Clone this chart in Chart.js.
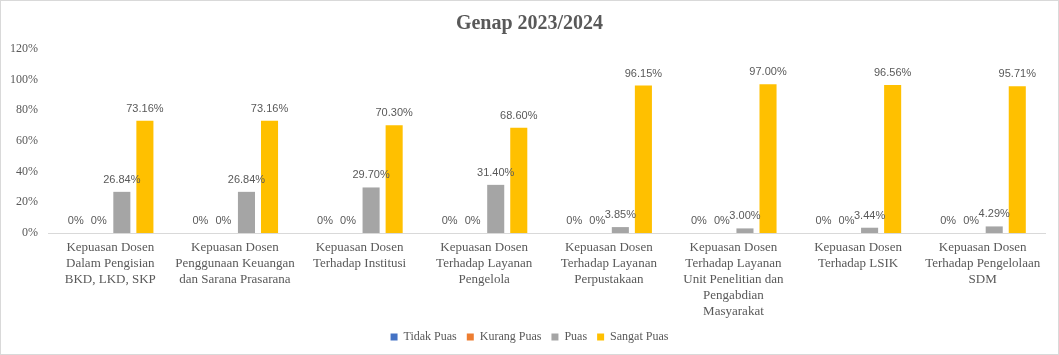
<!DOCTYPE html>
<html>
<head>
<meta charset="utf-8">
<script src="https://cdn.jsdelivr.net/npm/chart.js@4/dist/chart.umd.min.js"></script>
<style>
html,body{margin:0;padding:0;background:#fff;}
#wrap{width:1059px;height:355px;position:relative;}
</style>
</head>
<body>
<div id="wrap"><canvas id="c" width="1059" height="355"></canvas></div>
<script>
const categories = [
  ["Kepuasan Dosen","Dalam Pengisian","BKD, LKD, SKP"],
  ["Kepuasan Dosen","Penggunaan Keuangan","dan Sarana Prasarana"],
  ["Kepuasan Dosen","Terhadap Institusi"],
  ["Kepuasan Dosen","Terhadap Layanan","Pengelola"],
  ["Kepuasan Dosen","Terhadap Layanan","Perpustakaan"],
  ["Kepuasan Dosen","Terhadap Layanan","Unit Penelitian dan","Pengabdian","Masyarakat"],
  ["Kepuasan Dosen","Terhadap LSIK"],
  ["Kepuasan Dosen","Terhadap Pengelolaan","SDM"]
];
const seriesNames = ["Tidak Puas","Kurang Puas","Puas","Sangat Puas"];
const tidakPuas  = [0,0,0,0,0,0,0,0];
const kurangPuas = [0,0,0,0,0,0,0,0];
const puas       = [26.84,26.84,29.70,31.40,3.85,3.00,3.44,4.29];
const sangatPuas = [73.16,73.16,70.30,68.60,96.15,97.00,96.56,95.71];
const yTicks = [0,20,40,60,80,100,120];
const chartTitle = "Genap 2023/2024";
const colors = ["#4472C4","#ED7D31","#A5A5A5","#FFC000"];

const TXT = "#595959";
const SERIF = "'Liberation Serif','Times New Roman',serif";

const borderPlugin = {
  id:'bgBorder',
  beforeDraw(chart){
    const ctx = chart.ctx;
    ctx.save();
    ctx.fillStyle = '#fff';
    ctx.fillRect(0,0,chart.width,chart.height);
    ctx.restore();
  },
  afterDraw(chart){
    const ctx = chart.ctx;
    ctx.save();
    ctx.strokeStyle = '#d9d9d9';
    ctx.lineWidth = 1;
    ctx.strokeRect(0.5,0.5,chart.width-1,chart.height-1);
    ctx.restore();
  }
};

const labelPlugin = {
  id:'valLabels',
  afterDatasetsDraw(chart){
    const ctx = chart.ctx;
    ctx.save();
    ctx.font = "11px 'Liberation Sans', Arial, sans-serif";
    ctx.fillStyle = TXT;
    ctx.textAlign = 'center';
    ctx.textBaseline = 'middle';
    chart.data.datasets.forEach((ds, di) => {
      const meta = chart.getDatasetMeta(di);
      meta.data.forEach((bar, i) => {
        const v = ds.data[i];
        const txt = v === 0 ? '0%' : v.toFixed(2) + '%';
        ctx.fillText(txt, bar.x, bar.y - 12);
      });
    });
    ctx.restore();
  }
};

const seriesData = [tidakPuas, kurangPuas, puas, sangatPuas];

new Chart(document.getElementById('c'), {
  type: 'bar',
  data: {
    labels: categories,
    datasets: seriesNames.map((n, i) => ({
      label: n,
      data: seriesData[i],
      backgroundColor: colors[i],
      borderWidth: 0,
      barPercentage: 0.74,
      categoryPercentage: 0.74
    }))
  },
  options: {
    responsive: false,
    animation: false,
    devicePixelRatio: 1,
    layout: { padding: { left: 0, right: 0, top: 0, bottom: 2 } },
    plugins: {
      title: {
        display: true,
        text: chartTitle,
        color: TXT,
        font: { family: SERIF, size: 20, weight: 'bold' },
        padding: { top: 12, bottom: 13 }
      },
      legend: {
        position: 'bottom',
        labels: {
          boxWidth: 7, boxHeight: 7,
          color: TXT,
          font: { family: SERIF, size: 12 },
          padding: 10
        }
      },
      tooltip: { enabled: false }
    },
    scales: {
      x: {
        grid: { display: false, drawTicks: false },
        border: { display: true, color: '#d9d9d9', width: 1 },
        ticks: {
          color: TXT,
          font: { family: SERIF, size: 13, lineHeight: 1.23 },
          padding: 7,
          maxRotation: 0, minRotation: 0, autoSkip: false
        },
        afterFit(s){ s.height = 88; s.paddingRight = 14; }
      },
      y: {
        min: 0, max: 120,
        afterBuildTicks(s){ s.ticks = yTicks.map(v => ({ value: v })); },
        grid: { display: false, drawTicks: false },
        border: { display: false },
        ticks: {
          color: TXT,
          font: { family: SERIF, size: 12 },
          padding: 10,
          callback: v => v + '%'
        },
        afterFit(s){ s.width = 48; }
      }
    }
  },
  plugins: [borderPlugin, labelPlugin]
});
</script>
</body>
</html>
